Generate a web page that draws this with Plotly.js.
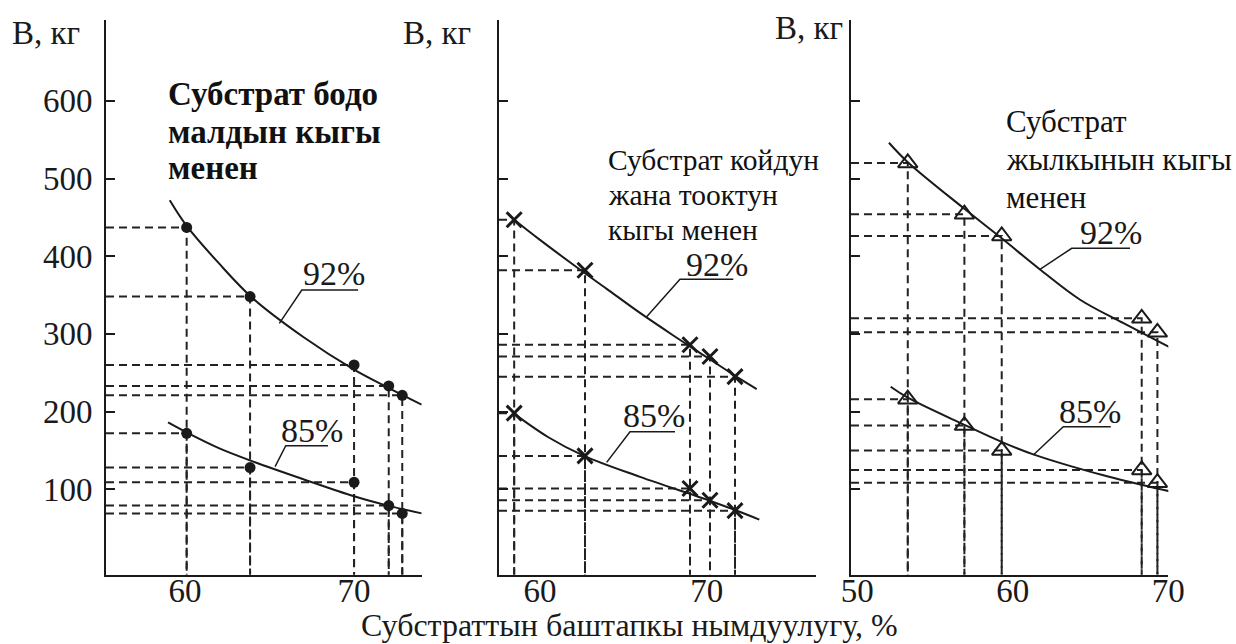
<!DOCTYPE html>
<html><head><meta charset="utf-8">
<script src="https://cdn.plot.ly/plotly-3.0.1.min.js"></script>
<style>html,body{margin:0;padding:0;background:#fff}</style>
</head><body><div id="chart" style="width:1236px;height:644px"></div>
<script>
// ---- data ----
const yTicks = [100, 200, 300, 400, 500, 600];
const xTicks1 = [60, 70];
const xTicks2 = [60, 70];
const xTicks3 = [50, 60, 70];

// panel 1: cattle manure
const cattleX = [60.1, 63.85, 70.0, 72.05, 72.85];
const cattle92 = [437, 348, 260, 233, 221];
const cattle85 = [172, 128, 109, 79, 69];
const cattleFitX92 = [59.1, 60.1, 62, 64, 67, 70, 72, 74];
const cattleFit92 = [472, 439, 391, 346, 296, 254, 231, 209];
const cattleFitX85 = [59.0, 60.2, 62, 64, 67, 70, 72, 74];
const cattleFit85 = [186, 172, 153, 136, 113, 91, 79, 69];

// panel 2: sheep and poultry manure
const sheepX = [58.45, 62.7, 69.0, 70.2, 71.7];
const sheep92 = [447, 382, 286, 271, 245];
const sheep85 = [198, 143, 101, 86, 72.5];
const sheepFitX92 = [58.45, 60, 62, 64, 66, 68, 70, 72, 73];
const sheepFit92 = [447, 421, 389, 358, 327, 298, 270, 242, 229];
const sheepFitX85 = [58.4, 60.5, 62.64, 66, 70.1, 71.74, 73.16];
const sheepFit85 = [198, 167, 143, 116, 86, 73, 61];

// panel 3: horse manure
const horseX = [53.25, 56.89, 59.29, 68.29, 69.30];
const horse92 = [520, 454, 426, 320, 302];
const horse85 = [216, 182, 150, 125, 108.5];
const horseFitX92 = [52.04, 53.25, 56.89, 59.29, 61.75, 64.33, 67, 69.3, 70.95];
const horseFit92 = [546, 521, 461, 423, 383, 344, 315, 291, 274];
const horseFitX85 = [52.15, 53.25, 56.89, 59.29, 61.32, 65.83, 69.3, 70.44];
const horseFit85 = [232, 218, 183, 161, 145, 118, 101, 96];

const panelTexts = [['Субстрат бодо', 'малдын кыгы', 'менен'],
                    ['Субстрат койдун', 'жана тооктун', 'кыгы менен'],
                    ['Субстрат', 'жылкынын кыгы', 'менен']];
const yTitle = 'В, кг';
const xTitle = 'Субстраттын баштапкы нымдуулугу, %';
const seriesLabels = ['92%', '85%'];

// ---- layout helpers ----
const W = 1236, H = 644;
const ink = '#1a1a1a';
const FONT = '"Liberation Serif", "DejaVu Serif", serif';
const yRange = [-9.9, 704];
const xRanges = [[55.33, 74.0], [57.54, 76.56], [49.6, 70.0]];
const px = v => v / W, py = v => 1 - v / H;

function dropLines(xs, ys, xmin, ymin, xa, ya) {
  const X = [], Y = [];
  xs.forEach((x, i) => { X.push(xmin, x, x, null); Y.push(ys[i], ys[i], ymin, null); });
  return {x: X, y: Y, xaxis: xa, yaxis: ya, mode: 'lines', hoverinfo: 'skip',
          line: {color: '#222', width: 2, dash: '8px,5px'}};
}
function curve(xs, ys, xa, ya) {
  return {x: xs, y: ys, xaxis: xa, yaxis: ya, mode: 'lines', hoverinfo: 'skip',
          line: {color: ink, width: 2, shape: 'spline', smoothing: 1}};
}
function marks(xs, ys, xa, ya, marker) {
  return {x: xs, y: ys, xaxis: xa, yaxis: ya, mode: 'markers', hoverinfo: 'skip',
          cliponaxis: false, marker: marker};
}

const dot = {symbol: 'circle', size: 11, color: ink};
const cross = {symbol: 'x-thin', size: 15, line: {width: 3, color: ink}, color: ink};
const tri = {symbol: 'triangle-up-open', size: 17, line: {width: 2, color: ink}, color: ink};

const panels = [
  {xa: 'x', ya: 'y', lx: 'x4', X: cattleX, a: cattle92, b: cattle85, fxa: cattleFitX92, fa: cattleFit92, fxb: cattleFitX85, fb: cattleFit85, m: dot},
  {xa: 'x2', ya: 'y2', lx: 'x5', X: sheepX, a: sheep92, b: sheep85, fxa: sheepFitX92, fa: sheepFit92, fxb: sheepFitX85, fb: sheepFit85, m: cross},
  {xa: 'x3', ya: 'y3', lx: 'x6', X: horseX, a: horse92, b: horse85, fxa: horseFitX92, fa: horseFit92, fxb: horseFitX85, fb: horseFit85, m: tri}
];

const traces = [];
panels.forEach((p, i) => {
  traces.push(dropLines(p.X, p.a, xRanges[i][0], yRange[0], p.xa, p.ya));
  traces.push(dropLines(p.X, p.b, xRanges[i][0], yRange[0], p.xa, p.ya));
  traces.push(curve(p.fxa, p.fa, p.xa, p.ya));
  traces.push(curve(p.fxb, p.fb, p.xa, p.ya));
  traces.push(marks(p.X, p.a, p.xa, p.ya, p.m));
  traces.push(marks(p.X, p.b, p.xa, p.ya, p.m));
  // empty trace so the overlaid label axis is drawn
  traces.push({x: [], y: [], xaxis: p.lx, yaxis: p.ya, mode: 'markers', hoverinfo: 'skip'});
});

// visible x axis lines (no labels)
function xaxis(dom, rng, anchor) {
  return {domain: dom, range: rng, anchor: anchor, showticklabels: false, ticks: '',
          showline: true, linewidth: 2, linecolor: ink, showgrid: false, zeroline: false, fixedrange: true};
}
// overlaid label axes, placed slightly closer to the line
function xlabels(over, rng, ticks) {
  return {overlaying: over, range: rng, anchor: 'free', position: py(568), tickvals: ticks,
          ticks: '', showline: false, showgrid: false, zeroline: false, fixedrange: true,
          tickfont: {family: FONT, size: 33, color: ink}, ticklabelstandoff: 0};
}
function yaxis(anchor, labels) {
  return {domain: [py(574.7), py(20)], range: yRange, anchor: anchor, tickvals: yTicks,
          ticks: 'inside', ticklen: 9, tickwidth: 2, tickcolor: ink, showline: true, linewidth: 2,
          linecolor: ink, showgrid: false, zeroline: false, fixedrange: true, showticklabels: labels,
          tickfont: {family: FONT, size: 33, color: ink}, ticklabelstandoff: 5};
}

// leader lines for 92% / 85% labels (data coordinates of each panel)
const leaders = [
  {xr: 'x', yr: 'y', pts: [[65.58, 313.6], [66.91, 356.5], [70.24, 356.5]], t: [68.82, 378], s: 0},
  {xr: 'x', yr: 'y', pts: [[65.33, 129.1], [65.96, 156.1], [68.46, 156.1]], t: [67.54, 176.3], s: 1},
  {xr: 'x2', yr: 'y2', pts: [[66.40, 322.1], [68.40, 370.3], [71.60, 370.3]], t: [70.59, 388.7], s: 0},
  {xr: 'x2', yr: 'y2', pts: [[64.00, 134.7], [65.40, 174.1], [68.10, 174.1]], t: [66.85, 195.6], s: 1},
  {xr: 'x3', yr: 'y3', pts: [[61.75, 383.1], [63.79, 410.2], [67.54, 410.2]], t: [66.29, 429.9], s: 0},
  {xr: 'x3', yr: 'y3', pts: [[61.32, 144.1], [63.25, 180.6], [66.30, 180.6]], t: [64.96, 199.9], s: 1}
];
const shapes = leaders.map(l => ({type: 'path', xref: l.xr, yref: l.yr,
  path: 'M' + l.pts.map(q => q[0] + ',' + q[1]).join(' L'), line: {color: ink, width: 1.5}}));

const annotations = leaders.map(l => ({xref: l.xr, yref: l.yr, x: l.t[0], y: l.t[1],
  text: seriesLabels[l.s], showarrow: false, xanchor: 'center', yanchor: 'middle',
  font: {family: FONT, size: 34, color: ink}}));

const textPos = [{x: 166, ys: [94, 132, 168], size: 33, weight: 'bold'},
                 {x: 606, ys: [160, 195, 230], size: 29.5, weight: 'normal'},
                 {x: 1004, ys: [122, 159, 197], size: 31, weight: 'normal'}];
textPos.forEach((tp, i) => panelTexts[i].forEach((line, j) => annotations.push({
  xref: 'paper', yref: 'paper', x: px(tp.x), y: py(tp.ys[j]), text: line, align: 'left',
  showarrow: false, xanchor: 'left', yanchor: 'middle',
  font: {family: FONT, size: tp.size, color: '#111', weight: tp.weight}})));

[[46, 33], [437, 33], [809, 28]].forEach(q => annotations.push({
  xref: 'paper', yref: 'paper', x: px(q[0]), y: py(q[1]), text: yTitle, showarrow: false,
  xanchor: 'center', yanchor: 'middle', font: {family: FONT, size: 33, color: ink}}));

annotations.push({xref: 'paper', yref: 'paper', x: px(629), y: 0, text: xTitle,
  showarrow: false, xanchor: 'center', yanchor: 'bottom', borderpad: 0,
  font: {family: FONT, size: 32, color: ink}});

const layout = {
  width: W, height: H, margin: {l: 0, r: 0, t: 0, b: 0},
  paper_bgcolor: '#fff', plot_bgcolor: '#fff', showlegend: false, hovermode: false,
  xaxis: xaxis([px(106), px(421.7)], xRanges[0], 'y'),
  xaxis2: xaxis([px(499), px(816)], xRanges[1], 'y2'),
  xaxis3: xaxis([px(851), px(1168.3)], xRanges[2], 'y3'),
  xaxis4: xlabels('x', xRanges[0], xTicks1),
  xaxis5: xlabels('x2', xRanges[1], xTicks2),
  xaxis6: xlabels('x3', xRanges[2], xTicks3),
  yaxis: yaxis('x', true),
  yaxis2: yaxis('x2', false),
  yaxis3: yaxis('x3', false),
  shapes: shapes, annotations: annotations
};

Plotly.newPlot('chart', traces, layout, {displayModeBar: false, staticPlot: true});
</script></body></html>
